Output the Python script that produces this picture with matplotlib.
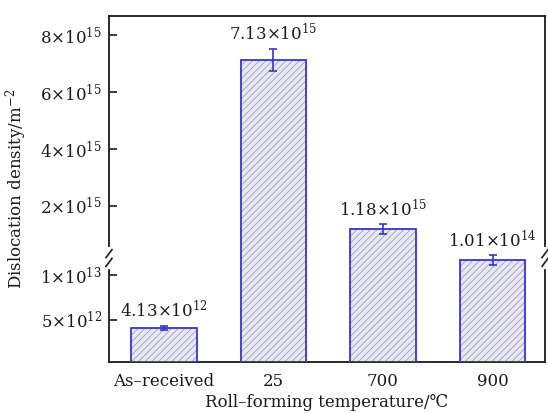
import matplotlib.pyplot as plt
import numpy as np

plt.rcParams['font.family'] = ['DejaVu Serif', 'DejaVu Sans']
plt.rcParams['mathtext.fontset'] = 'dejavuserif'
plt.rcParams['hatch.linewidth'] = 0.6

# data
categories = ['As–received', '25', '700', '900']
density = [4.13e12, 7.13e15, 1.18e15, 1.01e14]
errors = [2.5e11, 3.9e14, 1.75e14, 1.75e14]
bar_labels = [r'$4.13{\times}10^{12}$', r'$7.13{\times}10^{15}$',
              r'$1.18{\times}10^{15}$', r'$1.01{\times}10^{14}$']
# bar read on the lower part of the broken axis
on_lower = [True, False, False, False]

lo_ticks = [5e12, 1e13]
lo_ticklabels = [r'$5{\times}10^{12}$', r'$1{\times}10^{13}$']
hi_ticks = [2e15, 4e15, 6e15, 8e15]
hi_ticklabels = [r'$2{\times}10^{15}$', r'$4{\times}10^{15}$',
                 r'$6{\times}10^{15}$', r'$8{\times}10^{15}$']

edge = '#3535cc'
face = '#e9e9f4'
hatch_col = '#9d9db8'
txt = '#1a1a1a'
fs = 12

fig = plt.figure(figsize=(5.48, 4.13), dpi=100)
rect = [109/548, 1-362/413, 436/548, 346/413]
ax_hi = fig.add_axes(rect)
ax_lo = fig.add_axes(rect, sharex=ax_hi, frameon=False)

ax_hi.set_ylim(-3.474e15, 8.667e15)
ax_lo.set_ylim(0.333e12, 3.878e13)
ax_hi.set_xlim(-0.502, 3.479)

x = np.arange(len(categories))
for i in range(len(categories)):
    ax = ax_lo if on_lower[i] else ax_hi
    b = ax.get_ylim()[0]
    h = density[i] - b
    ax.bar(x[i], h, bottom=b, width=0.6, color=face, edgecolor=hatch_col,
           hatch='/////', linewidth=0, zorder=2)
    ax.bar(x[i], h, bottom=b, width=0.6, fill=False, edgecolor=edge,
           linewidth=1.3, zorder=3)
    ax.errorbar(x[i], density[i], yerr=errors[i], fmt='none', ecolor=edge,
                elinewidth=1.2, capsize=3, capthick=1.2, zorder=4)
    ax.annotate(bar_labels[i], (x[i], density[i] + errors[i]), xytext=(0, 3),
                textcoords='offset points', ha='center', va='bottom',
                fontsize=fs, color=txt)

ax_hi.set_yticks(hi_ticks)
ax_hi.set_yticklabels(hi_ticklabels)
ax_lo.set_yticks(lo_ticks)
ax_lo.set_yticklabels(lo_ticklabels)
for ax in (ax_hi, ax_lo):
    ax.tick_params(axis='y', direction='in', length=6, width=1.2,
                   labelsize=fs, pad=5, colors=txt)
ax_lo.tick_params(axis='x', bottom=False, labelbottom=False)
ax_hi.set_xticks(x)
ax_hi.set_xticklabels(categories)
ax_hi.tick_params(axis='x', length=0, labelsize=fs, pad=8, colors=txt)

for s in ax_hi.spines.values():
    s.set_linewidth(1.3)
    s.set_color(txt)

ax_hi.set_ylabel(r'Dislocation density/m$^{-2}$', fontsize=fs, color=txt, labelpad=8)
ax_hi.set_xlabel('Roll–forming temperature/℃', fontsize=fs, color=txt, labelpad=3)

# break marks on both vertical spines
yb = (362 - 258) / 346
dx, dy = 3/436, 4/346
for xs in (0, 1):
    ax_hi.plot([xs, xs], [yb - 2.2*dy, yb + 2.2*dy], color='white', lw=3,
               transform=ax_hi.transAxes, clip_on=False, zorder=6)
    for off in (-1.1*dy, 1.1*dy):
        ax_hi.plot([xs - dx, xs + dx], [yb + off - dy, yb + off + dy],
                   color=txt, lw=1.2, transform=ax_hi.transAxes,
                   clip_on=False, zorder=7)

fig.savefig('out.png', dpi=100)
